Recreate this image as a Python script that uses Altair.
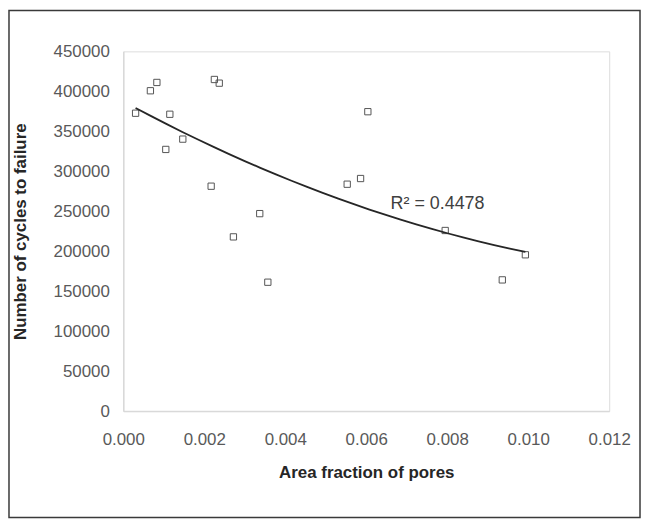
import altair as alt
import pandas as pd

area_fraction = [0.000304, 0.00067, 0.00083, 0.00115, 0.00105, 0.00147, 0.00225, 0.00237,
                 0.00217, 0.00272, 0.00337, 0.00357, 0.00553, 0.00586, 0.00604, 0.00795,
                 0.00936, 0.00993]
cycles = [372600, 400700, 411100, 371300, 327300, 340200, 414800, 410200,
          281300, 217900, 247000, 161200, 283800, 290900, 374500, 225900,
          164100, 195500]

r2_label = ["R² = 0.4478"]
r2_x = [0.00776]
r2_y = [258600]

df = pd.DataFrame({"x": area_fraction, "y": cycles})
ann = pd.DataFrame({"x": r2_x, "y": r2_y, "t": r2_label})

W, H = 489, 362
PL, PT, PR, PB = 116, 42, 32, 108

xs = alt.Scale(domain=[0, 0.012], nice=False, zero=False)
ys = alt.Scale(domain=[0, 450000], nice=False)

x_axis = alt.Axis(title="Area fraction of pores", format=".3f", values=[0, 0.002, 0.004, 0.006, 0.008, 0.010, 0.012],
                  grid=False, ticks=False, domainColor="#d9d9d9", domainWidth=1.5,
                  labelFont="Liberation Sans", labelFontSize=17, labelColor="#595959", labelPadding=21,
                  titleFont="Liberation Sans", titleFontSize=17, titleFontWeight="bold", titleColor="#262626",
                  titlePadding=17, labelFlush=False)
y_axis = alt.Axis(title="Number of cycles to failure", format="d", values=list(range(0, 450001, 50000)),
                  grid=False, ticks=False, domainColor="#d9d9d9", domainWidth=1.5,
                  labelFont="Liberation Sans", labelFontSize=17, labelColor="#595959", labelPadding=14,
                  titleFont="Liberation Sans", titleFontSize=17, titleFontWeight="bold", titleColor="#262626",
                  titlePadding=24, labelFlush=False)

base = alt.Chart(df)

points = base.mark_point(shape="square", size=40, filled=False, color="#555555", strokeWidth=1, opacity=1).encode(
    x=alt.X("x:Q", scale=xs, axis=x_axis),
    y=alt.Y("y:Q", scale=ys, axis=y_axis),
)

trend = base.transform_regression("x", "y", method="poly", order=2).mark_line(
    color="#262626", strokeWidth=1.8).encode(
    x=alt.X("x:Q", scale=xs),
    y=alt.Y("y:Q", scale=ys),
)

label = alt.Chart(ann).mark_text(font="Liberation Sans", fontSize=18, color="#404040", align="center",
                                 baseline="middle").encode(
    x=alt.X("x:Q", scale=xs), y=alt.Y("y:Q", scale=ys), text="t:N")

frame = alt.Chart(ann).mark_rect(fill=None, stroke="#3a3a3a", strokeWidth=1.5).encode(
    x=alt.value(-PL + 1), x2=alt.value(W + PR - 1), y=alt.value(-PT + 1), y2=alt.value(H + PB - 1))

chart = alt.layer(frame, points, trend, label).properties(
    width=W, height=H,
    autosize=alt.AutoSizeParams(type="none"),
    padding={"left": PL, "top": PT, "right": PR, "bottom": PB},
).configure_view(stroke=None).configure(background="white")

chart.save("out.html", embed_options={"renderer": "svg", "actions": False})
